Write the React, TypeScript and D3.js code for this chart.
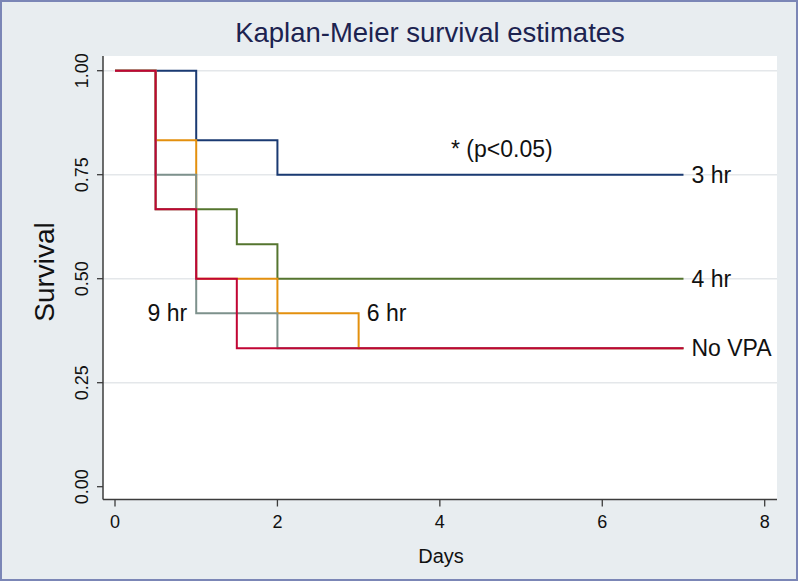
import React from 'react';
import * as d3 from 'd3';

// Kaplan-Meier step data (time in days, survival)
const groups = ['3 hr', '4 hr', '6 hr', '9 hr', 'No VPA'];
const times3hr = [0, 1, 2, 7];
const surv3hr = [1, 0.833, 0.75, 0.75];
const times4hr = [0, 0.5, 1.5, 2, 7];
const surv4hr = [1, 0.667, 0.583, 0.5, 0.5];
const times6hr = [0, 0.5, 1, 2, 3, 7];
const surv6hr = [1, 0.833, 0.5, 0.417, 0.333, 0.333];
const times9hr = [0, 0.5, 1, 2, 7];
const surv9hr = [1, 0.75, 0.417, 0.333, 0.333];
const timesNoVpa = [0, 0.5, 1, 1.5, 7];
const survNoVpa = [1, 0.667, 0.5, 0.333, 0.333];

const xTicks = [0, 2, 4, 6, 8];
const yTicks = [0, 0.25, 0.5, 0.75, 1];
const gridTicks = [0.25, 0.5, 0.75, 1];

const colors: Record<string, string> = {
  '3 hr': '#1a3a72',
  '4 hr': '#55752f',
  '6 hr': '#e3900e',
  '9 hr': '#7d918c',
  'No VPA': '#c10534',
};

const font = "'Liberation Sans', Arial, Helvetica, sans-serif";

const App = () => {
  const x = d3.scaleLinear().domain([0, 8]).range([115, 764.7]);
  const y = d3.scaleLinear().domain([0, 1]).range([486.7, 70.7]);

  const plot = { left: 103, right: 777, top: 56, bottom: 499.5 };

  const series = [
    { key: '3 hr', t: times3hr, s: surv3hr },
    { key: '4 hr', t: times4hr, s: surv4hr },
    { key: '6 hr', t: times6hr, s: surv6hr },
    { key: '9 hr', t: times9hr, s: surv9hr },
    { key: 'No VPA', t: timesNoVpa, s: survNoVpa },
  ];

  const line = d3
    .line<[number, number]>()
    .x((d) => x(d[0]))
    .y((d) => y(d[1]))
    .curve(d3.curveStepAfter);

  // labels at the end of the curves / next to steps
  const endLabels = [
    { text: groups[0], t: 7, v: 0.75 },
    { text: groups[1], t: 7, v: 0.5 },
    { text: groups[4], t: 7, v: 0.333 },
  ];

  return (
    <svg
      width={800}
      height={582}
      style={{ position: 'absolute', left: 0, top: 0 }}
      fontFamily={font}
    >
      <rect x={0} y={0} width={800} height={582} fill="#ffffff" />
      <rect x={1} y={1} width={796} height={579} fill="#e8edf0" stroke="#7b86b6" strokeWidth={2} />

      {/* title */}
      <text x={430} y={42} textAnchor="middle" fontSize={27.5} fill="#1c2350">
        Kaplan-Meier survival estimates
      </text>

      {/* plot region */}
      <rect
        x={plot.left}
        y={plot.top}
        width={plot.right - plot.left}
        height={plot.bottom - plot.top}
        fill="#ffffff"
      />

      {/* grid */}
      {gridTicks.map((v) => (
        <line
          key={`g${v}`}
          x1={plot.left}
          x2={plot.right}
          y1={y(v)}
          y2={y(v)}
          stroke="#e4e7ea"
          strokeWidth={1.6}
        />
      ))}

      {/* curves */}
      {series.map((sr) => (
        <path
          key={sr.key}
          d={line(sr.t.map((t, i) => [t, sr.s[i]] as [number, number])) || ''}
          fill="none"
          stroke={colors[sr.key]}
          strokeWidth={2}
        />
      ))}

      {/* axes */}
      <line x1={plot.left} x2={plot.left} y1={plot.top} y2={plot.bottom} stroke="#3c3c3c" strokeWidth={1.5} />
      <line x1={plot.left} x2={plot.right} y1={plot.bottom} y2={plot.bottom} stroke="#3c3c3c" strokeWidth={1.5} />

      {yTicks.map((v) => (
        <g key={`y${v}`}>
          <line x1={plot.left - 6} x2={plot.left} y1={y(v)} y2={y(v)} stroke="#3c3c3c" strokeWidth={1.3} />
          <text
            transform={`translate(88,${y(v)}) rotate(-90)`}
            textAnchor="middle"
            fontSize={18}
            fill="#111"
          >
            {d3.format('.2f')(v)}
          </text>
        </g>
      ))}

      {xTicks.map((v) => (
        <g key={`x${v}`}>
          <line x1={x(v)} x2={x(v)} y1={plot.bottom} y2={plot.bottom + 7} stroke="#3c3c3c" strokeWidth={1.3} />
          <text x={x(v)} y={527.5} textAnchor="middle" fontSize={18} fill="#111">
            {v}
          </text>
        </g>
      ))}

      <text x={441} y={563} textAnchor="middle" fontSize={20} fill="#111">
        Days
      </text>
      <text
        transform="translate(54,272) rotate(-90)"
        textAnchor="middle"
        fontSize={28}
        fill="#111"
      >
        Survival
      </text>

      {/* curve labels */}
      {endLabels.map((l) => (
        <text key={l.text} x={x(l.t) + 8} y={y(l.v) + 8} fontSize={23} fill="#111">
          {l.text}
        </text>
      ))}
      <text x={x(3.1)} y={y(0.417) + 8} fontSize={23} fill="#111">
        {groups[2]}
      </text>
      <text x={x(0.4)} y={y(0.417) + 7.5} fontSize={23} fill="#111">
        {groups[3]}
      </text>
      <text x={451} y={157} fontSize={23} fill="#111">
        * (p&lt;0.05)
      </text>
    </svg>
  );
};

export default App;
